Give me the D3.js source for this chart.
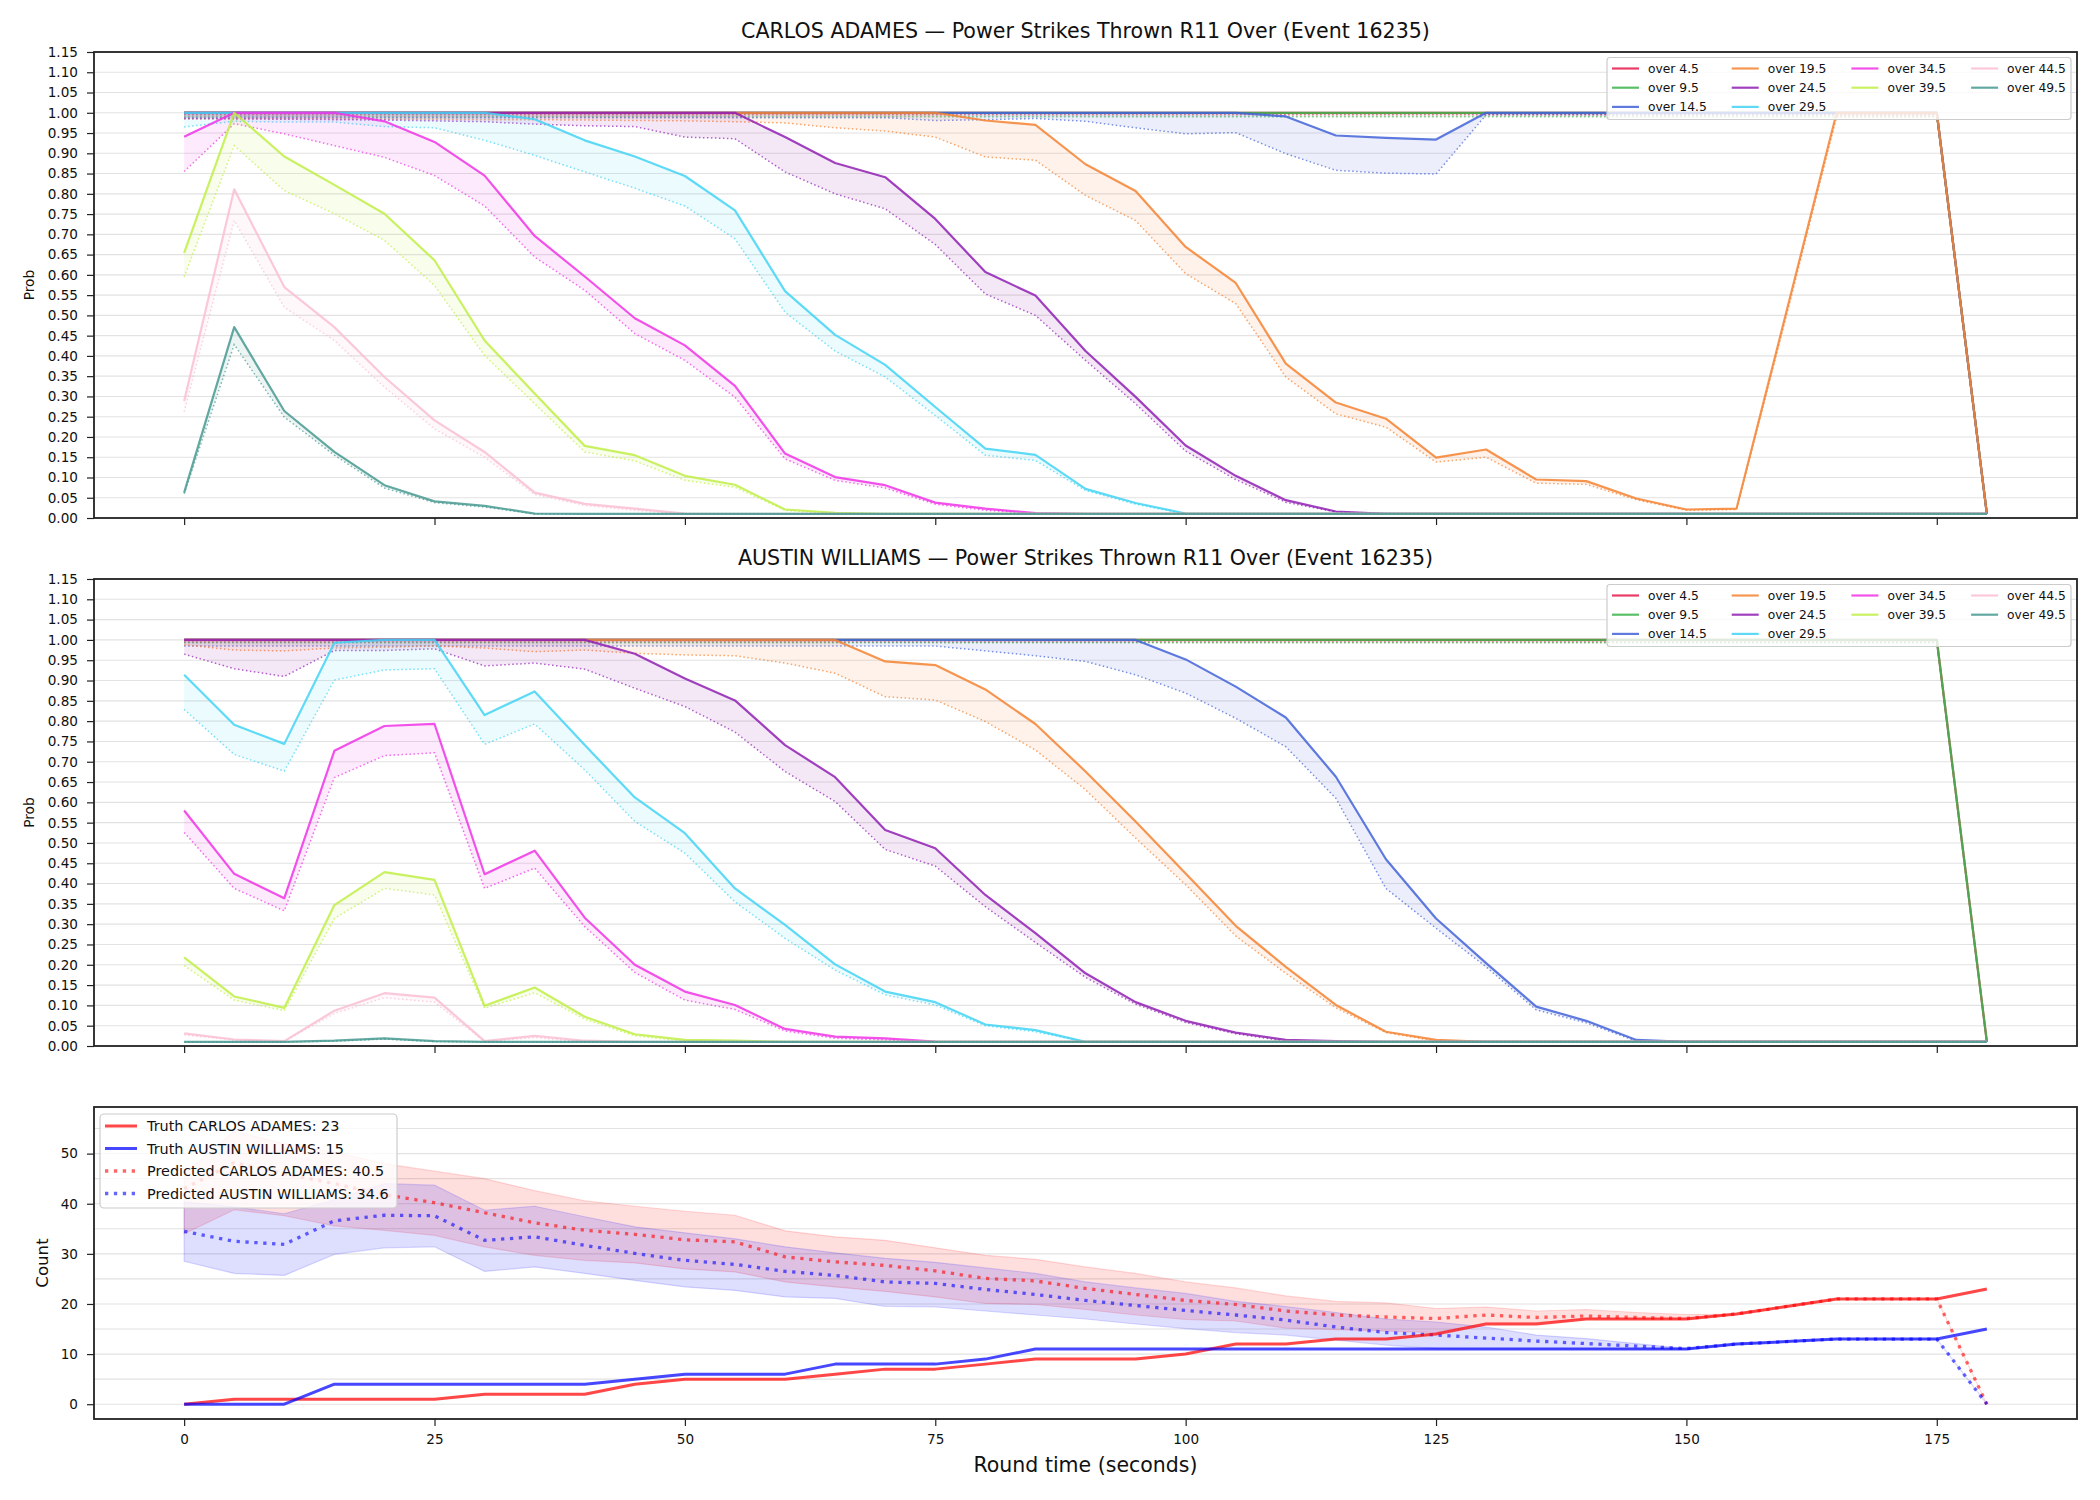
<!DOCTYPE html>
<html>
<head>
<meta charset="utf-8">
<script src="https://cdnjs.cloudflare.com/ajax/libs/d3/7.8.5/d3.min.js"></script>
<style>
  body { margin: 0; background: #fff; }
  svg { display: block; font-family: "DejaVu Sans", sans-serif; }
</style>
</head>
<body>
<svg id="chart"></svg>
<script>
/*Data*/

var times = [0, 5, 10, 15, 20, 25, 30, 35, 40, 45, 50, 55, 60, 65, 70, 75, 80, 85, 90, 95,
  100, 105, 110, 115, 120, 125, 130, 135, 140, 145, 150, 155, 160, 165, 170, 175, 180];

var thresholds = ["over 4.5", "over 9.5", "over 14.5", "over 19.5", "over 24.5",
  "over 29.5", "over 34.5", "over 39.5", "over 44.5", "over 49.5"];

var seriesColors = ["#e6194b", "#3cb44b", "#4363d8", "#f58231", "#911eb4",
  "#42d4f4", "#f032e6", "#bfef45", "#fabed4", "#469990"];

var probTicks = [0, 0.05, 0.1, 0.15, 0.2, 0.25, 0.3, 0.35, 0.4, 0.45, 0.5, 0.55,
  0.6, 0.65, 0.7, 0.75, 0.8, 0.85, 0.9, 0.95, 1, 1.05, 1.1, 1.15];
var timeTicks = [0, 25, 50, 75, 100, 125, 150, 175];
var countTicks = [0, 10, 20, 30, 40, 50];
var countGrid = [0, 5, 10, 15, 20, 25, 30, 35, 40, 45, 50, 55];

// CARLOS ADAMES, solid lines
var adamesProb = [
  [1, 1, 1, 1, 1, 1, 1, 1, 1, 1,
   1, 1, 1, 1, 1, 1, 1, 1, 1, 1,
   1, 1, 1, 1, 1, 1, 1, 1, 1, 1,
   1, 1, 1, 1, 1, 1, 0.01],
  [1, 1, 1, 1, 1, 1, 1, 1, 1, 1,
   1, 1, 1, 1, 1, 1, 1, 1, 1, 1,
   1, 1, 1, 1, 1, 1, 1, 1, 1, 1,
   1, 1, 1, 1, 1, 1, 0.01],
  [1, 1, 1, 1, 1, 1, 1, 1, 1, 1,
   1, 1, 1, 1, 1, 1, 1, 1, 1, 1,
   1, 1, 0.991, 0.944, 0.938, 0.934, 1, 1, 1, 1,
   1, 1, 1, 1, 1, 1, 0.01],
  [1, 1, 1, 1, 1, 1, 1, 1, 1, 1,
   1, 1, 1, 1, 1, 1, 0.981, 0.970, 0.873, 0.807,
   0.669, 0.58, 0.381, 0.285, 0.245, 0.149, 0.169, 0.095, 0.091, 0.048,
   0.021, 0.023, 0.51, 1, 1, 1, 0.01],
  [1, 1, 1, 1, 1, 1, 1, 1, 1, 1,
   1, 1, 0.94, 0.876, 0.841, 0.738, 0.607, 0.549, 0.412, 0.299,
   0.179, 0.104, 0.044, 0.016, 0.01, 0.01, 0.01, 0.01, 0.01, 0.01,
   0.01, 0.01, 0.01, 0.01, 0.01, 0.01, 0.01],
  [1, 1, 1, 1, 1, 1, 1, 0.984, 0.932, 0.892,
   0.844, 0.759, 0.56, 0.452, 0.378, 0.274, 0.171, 0.156, 0.072, 0.037,
   0.011, 0.01, 0.01, 0.01, 0.01, 0.01, 0.01, 0.01, 0.01, 0.01,
   0.01, 0.01, 0.01, 0.01, 0.01, 0.01, 0.01],
  [0.941, 1, 1, 1, 0.979, 0.928, 0.845, 0.696, 0.596, 0.493,
   0.426, 0.326, 0.159, 0.101, 0.081, 0.038, 0.023, 0.012, 0.01, 0.01,
   0.01, 0.01, 0.01, 0.01, 0.01, 0.01, 0.01, 0.01, 0.01, 0.01,
   0.01, 0.01, 0.01, 0.01, 0.01, 0.01, 0.01],
  [0.654, 1, 0.892, 0.822, 0.751, 0.636, 0.438, 0.307, 0.178, 0.155,
   0.104, 0.082, 0.021, 0.013, 0.01, 0.01, 0.01, 0.01, 0.01, 0.01,
   0.01, 0.01, 0.01, 0.01, 0.01, 0.01, 0.01, 0.01, 0.01, 0.01,
   0.01, 0.01, 0.01, 0.01, 0.01, 0.01, 0.01],
  [0.289, 0.811, 0.570, 0.471, 0.348, 0.241, 0.163, 0.0625, 0.035, 0.023,
   0.011, 0.01, 0.01, 0.01, 0.01, 0.01, 0.01, 0.01, 0.01, 0.01,
   0.01, 0.01, 0.01, 0.01, 0.01, 0.01, 0.01, 0.01, 0.01, 0.01,
   0.01, 0.01, 0.01, 0.01, 0.01, 0.01, 0.01],
  [0.0625, 0.471, 0.264, 0.163, 0.081, 0.041, 0.030, 0.011, 0.01, 0.01,
   0.01, 0.01, 0.01, 0.01, 0.01, 0.01, 0.01, 0.01, 0.01, 0.01,
   0.01, 0.01, 0.01, 0.01, 0.01, 0.01, 0.01, 0.01, 0.01, 0.01,
   0.01, 0.01, 0.01, 0.01, 0.01, 0.01, 0.01]
];

// CARLOS ADAMES, dotted lines
var adamesLow = [
  [0.995, 0.995, 0.995, 0.995, 0.995, 0.995, 0.995, 0.995, 0.995, 0.995,
   0.995, 0.995, 0.995, 0.995, 0.995, 0.995, 0.995, 0.995, 0.995, 0.995,
   0.995, 0.995, 0.995, 0.995, 0.995, 0.995, 0.995, 0.995, 0.995, 0.995,
   0.995, 0.995, 0.995, 0.995, 0.995, 0.995, 0.01],
  [0.99, 0.99, 0.99, 0.99, 0.99, 0.99, 0.99, 0.99, 0.99, 0.99,
   0.99, 0.99, 0.99, 0.99, 0.99, 0.99, 0.99, 0.99, 0.99, 0.99,
   0.99, 0.99, 0.99, 0.99, 0.99, 0.99, 0.99, 0.99, 0.99, 0.99,
   0.99, 0.99, 0.99, 0.99, 0.99, 0.99, 0.01],
  [0.988, 0.988, 0.988, 0.988, 0.988, 0.988, 0.988, 0.988, 0.988, 0.988,
   0.988, 0.988, 0.988, 0.988, 0.988, 0.981, 0.983, 0.986, 0.979, 0.963,
   0.948, 0.951, 0.899, 0.858, 0.851, 0.849, 0.995, 0.995, 0.995, 0.995,
   0.995, 0.995, 0.995, 0.995, 0.995, 0.995, 0.01],
  [0.985, 0.985, 0.985, 0.985, 0.984, 0.984, 0.983, 0.983, 0.982, 0.981,
   0.98, 0.978, 0.975, 0.963, 0.955, 0.94, 0.891, 0.883, 0.796, 0.734,
   0.603, 0.529, 0.348, 0.257, 0.224, 0.138, 0.150, 0.086, 0.083, 0.045,
   0.019, 0.021, 0.5, 0.99, 0.99, 0.99, 0.01],
  [0.985, 0.985, 0.984, 0.983, 0.982, 0.98, 0.978, 0.972, 0.968, 0.966,
   0.94, 0.936, 0.854, 0.80, 0.763, 0.675, 0.553, 0.5, 0.389, 0.282,
   0.165, 0.095, 0.039, 0.015, 0.01, 0.01, 0.01, 0.01, 0.01, 0.01,
   0.01, 0.01, 0.01, 0.01, 0.01, 0.01, 0.01],
  [0.965, 0.979, 0.977, 0.977, 0.966, 0.963, 0.932, 0.895, 0.854, 0.814,
   0.77, 0.689, 0.508, 0.412, 0.348, 0.253, 0.155, 0.142, 0.068, 0.034,
   0.01, 0.01, 0.01, 0.01, 0.01, 0.01, 0.01, 0.01, 0.01, 0.01,
   0.01, 0.01, 0.01, 0.01, 0.01, 0.01, 0.01],
  [0.855, 0.973, 0.948, 0.919, 0.89, 0.845, 0.77, 0.644, 0.562, 0.455,
   0.389, 0.298, 0.146, 0.093, 0.074, 0.034, 0.019, 0.011, 0.01, 0.01,
   0.01, 0.01, 0.01, 0.01, 0.01, 0.01, 0.01, 0.01, 0.01, 0.01,
   0.01, 0.01, 0.01, 0.01, 0.01, 0.01, 0.01],
  [0.595, 0.919, 0.808, 0.751, 0.685, 0.574, 0.401, 0.282, 0.163, 0.141,
   0.093, 0.076, 0.019, 0.011, 0.01, 0.01, 0.01, 0.01, 0.01, 0.01,
   0.01, 0.01, 0.01, 0.01, 0.01, 0.01, 0.01, 0.01, 0.01, 0.01,
   0.01, 0.01, 0.01, 0.01, 0.01, 0.01, 0.01],
  [0.262, 0.734, 0.52, 0.438, 0.323, 0.22, 0.150, 0.058, 0.031, 0.019,
   0.01, 0.01, 0.01, 0.01, 0.01, 0.01, 0.01, 0.01, 0.01, 0.01,
   0.01, 0.01, 0.01, 0.01, 0.01, 0.01, 0.01, 0.01, 0.01, 0.01,
   0.01, 0.01, 0.01, 0.01, 0.01, 0.01, 0.01],
  [0.06, 0.428, 0.249, 0.155, 0.074, 0.038, 0.027, 0.01, 0.01, 0.01,
   0.01, 0.01, 0.01, 0.01, 0.01, 0.01, 0.01, 0.01, 0.01, 0.01,
   0.01, 0.01, 0.01, 0.01, 0.01, 0.01, 0.01, 0.01, 0.01, 0.01,
   0.01, 0.01, 0.01, 0.01, 0.01, 0.01, 0.01]
];

// AUSTIN WILLIAMS, solid lines
var williamsProb = [
  [1, 1, 1, 1, 1, 1, 1, 1, 1, 1,
   1, 1, 1, 1, 1, 1, 1, 1, 1, 1,
   1, 1, 1, 1, 1, 1, 1, 1, 1, 1,
   1, 1, 1, 1, 1, 1, 0.01],
  [1, 1, 1, 1, 1, 1, 1, 1, 1, 1,
   1, 1, 1, 1, 1, 1, 1, 1, 1, 1,
   1, 1, 1, 1, 1, 1, 1, 1, 1, 1,
   1, 1, 1, 1, 1, 1, 0.01],
  [1, 1, 1, 1, 1, 1, 1, 1, 1, 1,
   1, 1, 1, 1, 1, 1, 1, 1, 1, 1,
   0.952, 0.885, 0.809, 0.663, 0.46, 0.314, 0.204, 0.097, 0.062, 0.015,
   0.01, 0.01, 0.01, 0.01, 0.01, 0.01, 0.01],
  [1, 1, 1, 1, 1, 1, 1, 1, 1, 1,
   1, 1, 1, 1, 0.947, 0.938, 0.878, 0.793, 0.676, 0.553,
   0.425, 0.296, 0.195, 0.101, 0.035, 0.015, 0.01, 0.01, 0.01, 0.01,
   0.01, 0.01, 0.01, 0.01, 0.01, 0.01, 0.01],
  [1, 1, 1, 1, 1, 1, 1, 1, 1, 0.966,
   0.905, 0.851, 0.741, 0.662, 0.532, 0.487, 0.372, 0.278, 0.179, 0.108,
   0.062, 0.033, 0.015, 0.012, 0.01, 0.01, 0.01, 0.01, 0.01, 0.01,
   0.01, 0.01, 0.01, 0.01, 0.01, 0.01, 0.01],
  [0.914, 0.791, 0.744, 0.993, 1, 1, 0.815, 0.873, 0.741, 0.612,
   0.524, 0.388, 0.298, 0.201, 0.134, 0.108, 0.053, 0.039, 0.01, 0.01,
   0.01, 0.01, 0.01, 0.01, 0.01, 0.01, 0.01, 0.01, 0.01, 0.01,
   0.01, 0.01, 0.01, 0.01, 0.01, 0.01, 0.01],
  [0.58, 0.424, 0.364, 0.727, 0.788, 0.793, 0.423, 0.481, 0.316, 0.2,
   0.134, 0.101, 0.042, 0.023, 0.019, 0.011, 0.01, 0.01, 0.01, 0.01,
   0.01, 0.01, 0.01, 0.01, 0.01, 0.01, 0.01, 0.01, 0.01, 0.01,
   0.01, 0.01, 0.01, 0.01, 0.01, 0.01, 0.01],
  [0.218, 0.122, 0.094, 0.347, 0.428, 0.409, 0.099, 0.144, 0.072, 0.029,
   0.015, 0.013, 0.01, 0.01, 0.01, 0.01, 0.01, 0.01, 0.01, 0.01,
   0.01, 0.01, 0.01, 0.01, 0.01, 0.01, 0.01, 0.01, 0.01, 0.01,
   0.01, 0.01, 0.01, 0.01, 0.01, 0.01, 0.01],
  [0.031, 0.016, 0.012, 0.087, 0.13, 0.119, 0.012, 0.025, 0.013, 0.01,
   0.01, 0.01, 0.01, 0.01, 0.01, 0.01, 0.01, 0.01, 0.01, 0.01,
   0.01, 0.01, 0.01, 0.01, 0.01, 0.01, 0.01, 0.01, 0.01, 0.01,
   0.01, 0.01, 0.01, 0.01, 0.01, 0.01, 0.01],
  [0.01, 0.01, 0.01, 0.013, 0.019, 0.012, 0.01, 0.01, 0.01, 0.01,
   0.01, 0.01, 0.01, 0.01, 0.01, 0.01, 0.01, 0.01, 0.01, 0.01,
   0.01, 0.01, 0.01, 0.01, 0.01, 0.01, 0.01, 0.01, 0.01, 0.01,
   0.01, 0.01, 0.01, 0.01, 0.01, 0.01, 0.01]
];

// AUSTIN WILLIAMS, dotted lines
var williamsLow = [
  [0.995, 0.995, 0.995, 0.995, 0.995, 0.995, 0.995, 0.995, 0.995, 0.995,
   0.995, 0.995, 0.995, 0.995, 0.995, 0.995, 0.995, 0.995, 0.995, 0.995,
   0.995, 0.995, 0.995, 0.995, 0.995, 0.995, 0.995, 0.995, 0.995, 0.995,
   0.995, 0.995, 0.995, 0.995, 0.995, 0.995, 0.01],
  [0.993, 0.993, 0.993, 0.993, 0.993, 0.993, 0.993, 0.993, 0.993, 0.993,
   0.993, 0.993, 0.993, 0.993, 0.993, 0.993, 0.993, 0.993, 0.993, 0.993,
   0.993, 0.993, 0.993, 0.993, 0.993, 0.993, 0.993, 0.993, 0.993, 0.993,
   0.993, 0.993, 0.993, 0.993, 0.993, 0.993, 0.01],
  [0.985, 0.985, 0.985, 0.985, 0.985, 0.985, 0.985, 0.985, 0.985, 0.985,
   0.985, 0.985, 0.985, 0.985, 0.985, 0.985, 0.973, 0.961, 0.947, 0.914,
   0.869, 0.807, 0.737, 0.61, 0.388, 0.29, 0.195, 0.089, 0.057, 0.012,
   0.01, 0.01, 0.01, 0.01, 0.01, 0.01, 0.01],
  [0.988, 0.975, 0.973, 0.98, 0.982, 0.985, 0.98, 0.971, 0.975, 0.967,
   0.963, 0.961, 0.943, 0.918, 0.86, 0.852, 0.799, 0.729, 0.631, 0.512,
   0.397, 0.271, 0.179, 0.094, 0.033, 0.012, 0.01, 0.01, 0.01, 0.01,
   0.01, 0.01, 0.01, 0.01, 0.01, 0.01, 0.01],
  [0.965, 0.929, 0.91, 0.974, 0.974, 0.978, 0.936, 0.943, 0.928, 0.881,
   0.836, 0.773, 0.676, 0.602, 0.484, 0.443, 0.343, 0.255, 0.169, 0.103,
   0.058, 0.03, 0.012, 0.01, 0.01, 0.01, 0.01, 0.01, 0.01, 0.01,
   0.01, 0.01, 0.01, 0.01, 0.01, 0.01, 0.01],
  [0.829, 0.718, 0.677, 0.901, 0.926, 0.929, 0.743, 0.793, 0.68, 0.553,
   0.475, 0.355, 0.265, 0.187, 0.126, 0.101, 0.05, 0.035, 0.01, 0.01,
   0.01, 0.01, 0.01, 0.01, 0.01, 0.01, 0.01, 0.01, 0.01, 0.01,
   0.01, 0.01, 0.01, 0.01, 0.01, 0.01, 0.01],
  [0.526, 0.388, 0.333, 0.661, 0.715, 0.722, 0.388, 0.438, 0.294, 0.181,
   0.113, 0.09, 0.037, 0.019, 0.015, 0.01, 0.01, 0.01, 0.01, 0.01,
   0.01, 0.01, 0.01, 0.01, 0.01, 0.01, 0.01, 0.01, 0.01, 0.01,
   0.01, 0.01, 0.01, 0.01, 0.01, 0.01, 0.01],
  [0.198, 0.113, 0.087, 0.314, 0.388, 0.372, 0.093, 0.131, 0.066, 0.025,
   0.012, 0.01, 0.01, 0.01, 0.01, 0.01, 0.01, 0.01, 0.01, 0.01,
   0.01, 0.01, 0.01, 0.01, 0.01, 0.01, 0.01, 0.01, 0.01, 0.01,
   0.01, 0.01, 0.01, 0.01, 0.01, 0.01, 0.01],
  [0.027, 0.015, 0.011, 0.08, 0.119, 0.108, 0.011, 0.021, 0.01, 0.01,
   0.01, 0.01, 0.01, 0.01, 0.01, 0.01, 0.01, 0.01, 0.01, 0.01,
   0.01, 0.01, 0.01, 0.01, 0.01, 0.01, 0.01, 0.01, 0.01, 0.01,
   0.01, 0.01, 0.01, 0.01, 0.01, 0.01, 0.01],
  [0.01, 0.01, 0.01, 0.012, 0.017, 0.011, 0.01, 0.01, 0.01, 0.01,
   0.01, 0.01, 0.01, 0.01, 0.01, 0.01, 0.01, 0.01, 0.01, 0.01,
   0.01, 0.01, 0.01, 0.01, 0.01, 0.01, 0.01, 0.01, 0.01, 0.01,
   0.01, 0.01, 0.01, 0.01, 0.01, 0.01, 0.01]
];

// counts
var truthAdames = [0, 1, 1, 1, 1, 1, 2, 2, 2, 4, 5, 5, 5, 6, 7, 7, 8, 9, 9, 9,
  10, 12, 12, 13, 13, 14, 16, 16, 17, 17, 17, 18, 19.5, 21, 21, 21, 23];
var truthWilliams = [0, 0, 0, 4, 4, 4, 4, 4, 4, 5, 6, 6, 6, 8, 8, 8, 9, 11, 11, 11,
  11, 11, 11, 11, 11, 11, 11, 11, 11, 11, 11, 12, 12.5, 13, 13, 13, 15];
var predAdames = [43, 48.2, 46, 44, 41.8, 40.2, 38.2, 36.2, 34.7, 33.9,
  32.8, 32.4, 29.4, 28.4, 27.7, 26.6, 25.1, 24.6, 23.1, 21.9,
  20.7, 19.9, 18.6, 17.8, 17.4, 17.1, 17.8, 17.3, 17.6, 17.3,
  17.1, 18, 19.5, 21, 21, 21, 0];
var predAdamesHi = [46, 54.5, 52, 50.3, 48, 46.5, 45, 42.6, 40.6, 39.5,
  38.5, 37.7, 34.6, 33.4, 32.7, 31.2, 29.7, 28.9, 27.4, 26.1,
  24.4, 23.2, 21.6, 20.5, 20.2, 19.1, 19.4, 18.6, 18.9, 18.3,
  17.9, 18, 19.5, 21, 21, 21, 0];
var predAdamesLo = [34, 38.8, 37.6, 35.6, 34.7, 33.7, 31.4, 29.7, 28.7, 28.2,
  27, 26.4, 24.4, 23.4, 22.5, 21.4, 20.1, 19.9, 18.9, 17.8,
  16.9, 16.6, 15.2, 14.9, 14.6, 14.3, 16.2, 16.3, 17, 17,
  17, 18, 19.5, 21, 21, 21, 0];
var predWilliams = [34.5, 32.5, 31.9, 36.6, 37.7, 37.6, 32.7, 33.4, 31.7, 30.1,
  28.7, 27.9, 26.5, 25.7, 24.4, 24.1, 22.9, 21.9, 20.7, 19.7,
  18.7, 17.8, 16.8, 15.4, 14.3, 13.8, 13.2, 12.6, 12.1, 11.6,
  11.1, 12, 12.5, 13, 13, 13, 0];
var predWilliamsHi = [40.4, 39.4, 38, 40.8, 44, 43.7, 38.7, 39.5, 37.4, 35.4,
  34.2, 33, 31.4, 30.2, 29.1, 28.3, 27.2, 26.1, 24.4, 23.2,
  22.1, 20.5, 19.5, 18.3, 17, 16.4, 15.4, 13.8, 13.1, 12.1,
  11.1, 12, 12.5, 13, 13, 13, 0];
var predWilliamsLo = [28.5, 26.1, 25.7, 29.9, 31.2, 31.4, 26.5, 27.4, 26.1, 24.7,
  23.4, 22.7, 21.4, 21.1, 19.5, 19.4, 18.6, 17.8, 17, 16,
  15.1, 14.3, 13.8, 12.8, 11.8, 11.1, 11, 11, 11, 11,
  11, 12, 12.5, 13, 13, 13, 0];

var countLabels = ["Truth CARLOS ADAMES: 23", "Truth AUSTIN WILLIAMS: 15",
  "Predicted CARLOS ADAMES: 40.5", "Predicted AUSTIN WILLIAMS: 34.6"];


/*Layout*/

var W = 2100, H = 1500;
var plotLeft = 94, plotRight = 2077;

var svg = d3.select("#chart")
  .attr("width", W)
  .attr("height", H);

svg.append("rect")
  .attr("width", W)
  .attr("height", H)
  .attr("fill", "#fff");

var x = d3.scaleLinear()
  .domain([-9, 189])
  .range([plotLeft, plotRight]);

function styleAxis(g, fontSize) {
  g.select(".domain").remove();
  g.selectAll(".tick line").attr("stroke", "#222").attr("stroke-width", 1.2);
  g.selectAll(".tick text")
    .attr("fill", "#111")
    .style("font-family", "DejaVu Sans")
    .style("font-size", fontSize + "px");
}

function drawGrid(g, y, vals) {
  g.selectAll("line.grid")
    .data(vals)
    .enter()
    .append("line")
    .attr("class", "grid")
    .attr("x1", plotLeft)
    .attr("x2", plotRight)
    .attr("y1", function (d) { return y(d); })
    .attr("y2", function (d) { return y(d); })
    .attr("stroke", "#e2e2e2")
    .attr("stroke-width", 1.1);
}

function drawSpine(g, top, bottom) {
  g.append("rect")
    .attr("x", plotLeft)
    .attr("y", top)
    .attr("width", plotRight - plotLeft)
    .attr("height", bottom - top)
    .attr("fill", "none")
    .attr("stroke", "#222")
    .attr("stroke-width", 1.8);
}


/*Probability panels*/

function drawProbPanel(top, bottom, title, probs, lows, clipId) {
  var y = d3.scaleLinear()
    .domain([0, 1.15])
    .range([bottom, top]);

  var g = svg.append("g");

  drawGrid(g, y, probTicks);

  g.append("clipPath")
    .attr("id", clipId)
    .append("rect")
    .attr("x", plotLeft)
    .attr("y", top)
    .attr("width", plotRight - plotLeft)
    .attr("height", bottom - top);

  var data = g.append("g").attr("clip-path", "url(#" + clipId + ")");

  thresholds.forEach(function (name, i) {
    var pts = times.map(function (t, j) {
      return { t: t, p: probs[i][j], lo: lows[i][j] };
    });

    var area = d3.area()
      .x(function (d) { return x(d.t); })
      .y0(function (d) { return y(d.lo); })
      .y1(function (d) { return y(d.p); });

    var line = d3.line()
      .x(function (d) { return x(d.t); })
      .y(function (d) { return y(d.p); });

    var lowLine = d3.line()
      .x(function (d) { return x(d.t); })
      .y(function (d) { return y(d.lo); });

    data.append("path")
      .datum(pts)
      .attr("d", area)
      .attr("fill", seriesColors[i])
      .attr("fill-opacity", 0.1);

    data.append("path")
      .datum(pts)
      .attr("d", lowLine)
      .attr("fill", "none")
      .attr("stroke", seriesColors[i])
      .attr("stroke-opacity", 0.7)
      .attr("stroke-width", 1.5)
      .attr("stroke-dasharray", "1.5,2.5");

    data.append("path")
      .datum(pts)
      .attr("d", line)
      .attr("fill", "none")
      .attr("stroke", seriesColors[i])
      .attr("stroke-opacity", 0.85)
      .attr("stroke-width", 2.2)
      .attr("stroke-linejoin", "round");
  });

  g.append("g")
    .attr("transform", "translate(" + plotLeft + ",0)")
    .call(d3.axisLeft(y).tickValues(probTicks).tickFormat(d3.format(".2f")).tickSize(7).tickPadding(9))
    .call(styleAxis, 13.6);

  g.append("g")
    .attr("transform", "translate(0," + bottom + ")")
    .call(d3.axisBottom(x).tickValues(timeTicks).tickFormat("").tickSize(7))
    .call(styleAxis, 13.6);

  drawSpine(g, top, bottom);

  g.append("text")
    .attr("x", (plotLeft + plotRight) / 2)
    .attr("y", top - 14)
    .attr("text-anchor", "middle")
    .attr("fill", "#111")
    .style("font-size", "20.6px")
    .text(title);

  g.append("text")
    .attr("transform", "translate(34," + (top + bottom) / 2 + ") rotate(-90)")
    .attr("text-anchor", "middle")
    .attr("fill", "#111")
    .style("font-size", "13.8px")
    .text("Prob");

  // legend, 4 columns filled top-down
  var leg = g.append("g");
  leg.append("rect")
    .attr("x", 1607)
    .attr("y", top + 5.5)
    .attr("width", 464)
    .attr("height", 62)
    .attr("rx", 3)
    .attr("fill", "#fff")
    .attr("fill-opacity", 0.8)
    .attr("stroke", "#cccccc")
    .attr("stroke-width", 1.2);

  var colRows = [3, 3, 2, 2];
  var k = 0;
  colRows.forEach(function (n, c) {
    for (var r = 0; r < n; r++) {
      var hx = 1612 + c * 119.7;
      var hy = top + 16.5 + r * 19.2;
      leg.append("line")
        .attr("x1", hx)
        .attr("x2", hx + 27)
        .attr("y1", hy)
        .attr("y2", hy)
        .attr("stroke", seriesColors[k])
        .attr("stroke-opacity", 0.85)
        .attr("stroke-width", 2.2);
      leg.append("text")
        .attr("x", hx + 36)
        .attr("y", hy)
        .attr("dy", "0.36em")
        .attr("fill", "#111")
        .style("font-size", "12.3px")
        .text(thresholds[k]);
      k++;
    }
  });
}


/*Count panel*/

function drawCountPanel(top, bottom) {
  var y = d3.scaleLinear()
    .domain([-2.95, 59.3])
    .range([bottom, top]);

  var g = svg.append("g");

  drawGrid(g, y, countGrid);

  g.append("clipPath")
    .attr("id", "clip-count")
    .append("rect")
    .attr("x", plotLeft)
    .attr("y", top)
    .attr("width", plotRight - plotLeft)
    .attr("height", bottom - top);

  var data = g.append("g").attr("clip-path", "url(#clip-count)");

  var players = [
    { truth: truthAdames, pred: predAdames, lo: predAdamesLo, hi: predAdamesHi, color: "#ff0000" },
    { truth: truthWilliams, pred: predWilliams, lo: predWilliamsLo, hi: predWilliamsHi, color: "#0000ff" }
  ];

  players.forEach(function (p) {
    var pts = times.map(function (t, j) {
      return { t: t, lo: p.lo[j], hi: p.hi[j] };
    });
    data.append("path")
      .datum(pts)
      .attr("d", d3.area()
        .x(function (d) { return x(d.t); })
        .y0(function (d) { return y(d.lo); })
        .y1(function (d) { return y(d.hi); }))
      .attr("fill", p.color)
      .attr("fill-opacity", 0.13)
      .attr("stroke", p.color)
      .attr("stroke-opacity", 0.15)
      .attr("stroke-width", 1.2);
  });

  players.forEach(function (p) {
    data.append("path")
      .datum(p.pred)
      .attr("d", d3.line()
        .x(function (d, j) { return x(times[j]); })
        .y(function (d) { return y(d); }))
      .attr("fill", "none")
      .attr("stroke", p.color)
      .attr("stroke-opacity", 0.6)
      .attr("stroke-width", 3.3)
      .attr("stroke-dasharray", "3.3,5.6");
  });

  players.forEach(function (p) {
    data.append("path")
      .datum(p.truth)
      .attr("d", d3.line()
        .x(function (d, j) { return x(times[j]); })
        .y(function (d) { return y(d); }))
      .attr("fill", "none")
      .attr("stroke", p.color)
      .attr("stroke-opacity", 0.72)
      .attr("stroke-width", 3)
      .attr("stroke-linejoin", "round");
  });

  g.append("g")
    .attr("transform", "translate(" + plotLeft + ",0)")
    .call(d3.axisLeft(y).tickValues(countTicks).tickSize(7).tickPadding(9))
    .call(styleAxis, 13.6);

  g.append("g")
    .attr("transform", "translate(0," + bottom + ")")
    .call(d3.axisBottom(x).tickValues(timeTicks).tickSize(7).tickPadding(8))
    .call(styleAxis, 13.6);

  drawSpine(g, top, bottom);

  g.append("text")
    .attr("transform", "translate(47.5," + (top + bottom) / 2 + ") rotate(-90)")
    .attr("text-anchor", "middle")
    .attr("fill", "#111")
    .style("font-size", "16.6px")
    .text("Count");

  g.append("text")
    .attr("x", (plotLeft + plotRight) / 2)
    .attr("y", 1472)
    .attr("text-anchor", "middle")
    .attr("fill", "#111")
    .style("font-size", "20.5px")
    .text("Round time (seconds)");

  // legend
  var leg = g.append("g");
  leg.append("rect")
    .attr("x", 100)
    .attr("y", top + 7)
    .attr("width", 297)
    .attr("height", 94)
    .attr("rx", 4)
    .attr("fill", "#fff")
    .attr("fill-opacity", 0.8)
    .attr("stroke", "#cccccc")
    .attr("stroke-width", 1.2);

  var handles = [
    { color: "#ff0000", op: 0.72, dash: null },
    { color: "#0000ff", op: 0.72, dash: null },
    { color: "#ff0000", op: 0.6, dash: "3.3,5.6" },
    { color: "#0000ff", op: 0.6, dash: "3.3,5.6" }
  ];

  countLabels.forEach(function (label, i) {
    var hy = top + 19 + i * 22.5;
    leg.append("line")
      .attr("x1", 105)
      .attr("x2", 137)
      .attr("y1", hy)
      .attr("y2", hy)
      .attr("stroke", handles[i].color)
      .attr("stroke-opacity", handles[i].op)
      .attr("stroke-width", handles[i].dash ? 3.3 : 3)
      .attr("stroke-dasharray", handles[i].dash);
    leg.append("text")
      .attr("x", 147)
      .attr("y", hy)
      .attr("dy", "0.36em")
      .attr("fill", "#111")
      .style("font-size", "14.4px")
      .text(label);
  });
}

drawProbPanel(52, 518, "CARLOS ADAMES \u2014 Power Strikes Thrown R11 Over (Event 16235)", adamesProb, adamesLow, "clip-a");
drawProbPanel(579, 1046, "AUSTIN WILLIAMS \u2014 Power Strikes Thrown R11 Over (Event 16235)", williamsProb, williamsLow, "clip-w");
drawCountPanel(1107, 1419);
</script>
</body>
</html>
